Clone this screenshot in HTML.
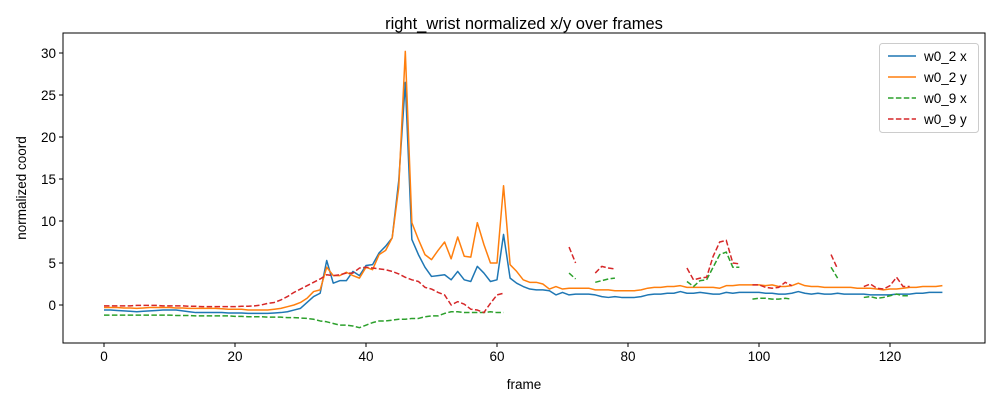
<!DOCTYPE html>
<html><head><meta charset="utf-8"><style>
body{margin:0;background:#fff;}
svg{display:block;font-family:"Liberation Sans","DejaVu Sans",sans-serif;}
</style></head><body>
<svg id="chart" width="1000" height="400"></svg>
<script>
const frames = Array.from({length:129},(_, i)=>i);
const n = null;
const w02x = [-0.6,-0.6,-0.65,-0.7,-0.75,-0.8,-0.75,-0.7,-0.65,-0.6,
-0.6,-0.6,-0.7,-0.8,-0.9,-0.9,-0.9,-0.9,-0.9,-0.95,
-0.95,-0.95,-1,-1,-1,-1,-0.95,-0.9,-0.8,-0.6,
-0.4,0.3,1.0,1.4,5.3,2.6,2.9,2.9,4.0,3.5,
4.7,4.8,6.2,7.0,8.0,14.8,26.5,7.8,6.0,4.5,
3.4,3.5,3.6,3.0,4.0,3.0,2.8,4.6,3.8,2.8,
3.0,8.4,3.2,2.6,2.2,1.9,1.8,1.8,1.7,1.2,
1.5,1.2,1.3,1.3,1.3,1.2,1.0,0.9,1.0,0.9,
0.9,0.9,1.0,1.2,1.3,1.3,1.4,1.4,1.6,1.4,
1.4,1.5,1.4,1.3,1.3,1.5,1.4,1.5,1.5,1.5,
1.5,1.4,1.4,1.3,1.3,1.4,1.6,1.4,1.3,1.4,
1.3,1.3,1.4,1.3,1.3,1.3,1.3,1.2,1.2,1.2,
1.2,1.3,1.3,1.3,1.4,1.4,1.5,1.5,1.5];
const w02y = [-0.3,-0.3,-0.3,-0.35,-0.35,-0.4,-0.35,-0.3,-0.3,-0.3,
-0.3,-0.35,-0.35,-0.4,-0.4,-0.4,-0.4,-0.4,-0.45,-0.5,
-0.5,-0.5,-0.6,-0.6,-0.6,-0.6,-0.5,-0.4,-0.2,0.0,
0.3,0.8,1.6,1.8,4.5,3.5,3.5,3.9,3.5,3.2,
4.5,4.2,6.0,6.5,8.0,14.0,30.2,9.8,7.8,6.0,
5.4,6.5,7.5,5.5,8.1,5.8,5.7,9.8,7.2,5.0,
5.0,14.2,4.8,4.0,3.0,2.7,2.7,2.5,1.9,2.2,
1.9,2.0,2.0,2.0,2.0,1.8,1.8,1.8,1.7,1.7,
1.7,1.7,1.8,2.0,2.1,2.1,2.2,2.2,2.3,2.1,
2.1,2.1,2.1,2.1,2.0,2.3,2.3,2.4,2.4,2.4,
2.4,2.3,2.4,2.2,2.2,2.3,2.6,2.3,2.2,2.2,
2.1,2.1,2.1,2.1,2.1,2.0,2.0,2.0,1.9,1.8,
1.9,1.9,2.0,2.1,2.1,2.2,2.2,2.2,2.3];
const w09x = [-1.2,-1.2,-1.2,-1.2,-1.2,-1.2,-1.2,-1.2,-1.2,-1.2,
-1.2,-1.25,-1.25,-1.25,-1.3,-1.3,-1.3,-1.3,-1.3,-1.3,
-1.35,-1.35,-1.4,-1.4,-1.4,-1.45,-1.45,-1.45,-1.5,-1.5,
-1.55,-1.6,-1.7,-1.9,-2.0,-2.2,-2.4,-2.4,-2.5,-2.7,
-2.4,-2.1,-1.9,-1.9,-1.8,-1.7,-1.7,-1.6,-1.6,-1.4,
-1.3,-1.3,-1.0,-0.8,-0.8,-0.9,-0.9,-0.9,-0.9,-0.8,
-0.9,-0.9,n,n,n,n,n,n,n,n,
n,3.8,3.1,n,n,2.7,2.9,3.1,3.2,n,
n,n,n,n,n,n,n,n,n,2.8,
2.2,2.9,3.0,4.5,6.0,6.3,4.5,4.5,n,0.7,
0.8,0.8,0.7,0.7,0.8,0.7,n,n,n,n,
n,4.5,3.2,n,n,n,0.9,1.0,0.8,0.9,
1.1,1.3,1.1,1.1,n,n,n,n,n];
const w09y = [-0.1,-0.1,-0.1,-0.1,-0.1,-0.05,-0.05,-0.05,-0.05,-0.1,
-0.1,-0.1,-0.1,-0.15,-0.15,-0.2,-0.2,-0.2,-0.2,-0.2,
-0.2,-0.15,-0.15,-0.1,0.0,0.2,0.3,0.6,1.0,1.5,
1.9,2.3,2.7,3.1,3.6,3.5,3.6,3.8,3.8,4.4,
4.5,4.4,4.3,4.2,4.0,3.7,3.3,3.0,2.8,2.1,
1.9,1.5,1.2,0.0,0.4,0.1,-0.5,-0.6,-0.9,0.2,
1.2,1.4,n,n,n,n,n,n,n,n,
n,6.9,5.0,n,n,3.8,4.6,4.4,4.3,n,
n,n,n,n,n,n,n,n,n,4.4,
3.0,3.2,3.3,5.8,7.5,7.7,5.0,4.9,n,2.4,
2.4,2.1,2.0,2.1,2.7,2.3,n,n,n,n,
n,6.0,4.3,n,n,n,2.2,2.5,2.0,1.9,
2.3,3.3,2.2,2.2,n,n,n,n,n];
const xTicks = [0,20,40,60,80,100,120];
const yTicks = [0,5,10,15,20,25,30];
const seriesNames = ["w0_2 x","w0_2 y","w0_9 x","w0_9 y"];

const NS="http://www.w3.org/2000/svg";
const svg=document.getElementById('chart');
const L=63,R=985,T=33,B=343;
const X=f=>104+f*6.55;
const Y=v=>305-v*8.4;
function mk(tag,attrs,parent){const e=document.createElementNS(NS,tag);for(const k in attrs)e.setAttribute(k,attrs[k]);(parent||svg).appendChild(e);return e;}

const title=mk('text',{x:524,y:29,'text-anchor':'middle','font-size':16.5,fill:'#000'});
title.textContent='right_wrist normalized x/y over frames';



const series=[
 {d:w02x,c:'#1f77b4',dash:null,name:'series-w0-2-x'},
 {d:w02y,c:'#ff7f0e',dash:null,name:'series-w0-2-y'},
 {d:w09x,c:'#2ca02c',dash:'5.5,2.4',name:'series-w0-9-x'},
 {d:w09y,c:'#d62728',dash:'5.5,2.4',name:'series-w0-9-y'}];
series.forEach(s=>{
  let d='',pen=false;
  frames.forEach(i=>{const v=s.d[i];if(v===null||v===undefined){pen=false;return;}
    d+=(pen?'L':'M')+X(i).toFixed(2)+','+Y(v).toFixed(2);pen=true;});
  const p=mk('path',{d:d,fill:'none',stroke:s.c,'stroke-width':1.5,'stroke-linejoin':'round'});
  if(s.dash)p.setAttribute('stroke-dasharray',s.dash);
  
  
});

const frame=mk('rect',{x:L,y:T,width:R-L,height:B-T,fill:'none',stroke:'#000','stroke-width':1});



xTicks.forEach(t=>{
  mk('line',{x1:X(t),x2:X(t),y1:B,y2:B+4,stroke:'#000','stroke-width':1});
  const tx=mk('text',{x:X(t),y:B+18,'text-anchor':'middle','font-size':13.5,fill:'#000'});
  tx.textContent=t;
  
  
});
yTicks.forEach(t=>{
  mk('line',{x1:L-4,x2:L,y1:Y(t),y2:Y(t),stroke:'#000','stroke-width':1});
  const tx=mk('text',{x:L-7,y:Y(t)+5,'text-anchor':'end','font-size':13.5,fill:'#000'});
  tx.textContent=t;
  
  
});
const xl=mk('text',{x:524,y:389,'text-anchor':'middle','font-size':13.5,fill:'#000'});
xl.textContent='frame';


const yl=mk('text',{x:0,y:0,'text-anchor':'middle','font-size':13.5,fill:'#000',transform:'translate(26,188) rotate(-90)'});
yl.textContent='normalized coord';



const lg=mk('g',{});


mk('rect',{x:879.5,y:43.5,width:99,height:89,rx:3,fill:'#fff',stroke:'#ccc','stroke-width':1},lg);
series.forEach((s,i)=>{
  const yy=56+i*21;
  const ln=mk('line',{x1:888,x2:916,y1:yy,y2:yy,stroke:s.c,'stroke-width':1.5},lg);
  if(s.dash)ln.setAttribute('stroke-dasharray',s.dash);
  
  
  const tx=mk('text',{x:924,y:yy+5,'font-size':13.5,fill:'#000'},lg);
  tx.textContent=seriesNames[i];
  
  
});
</script>
</body></html>
